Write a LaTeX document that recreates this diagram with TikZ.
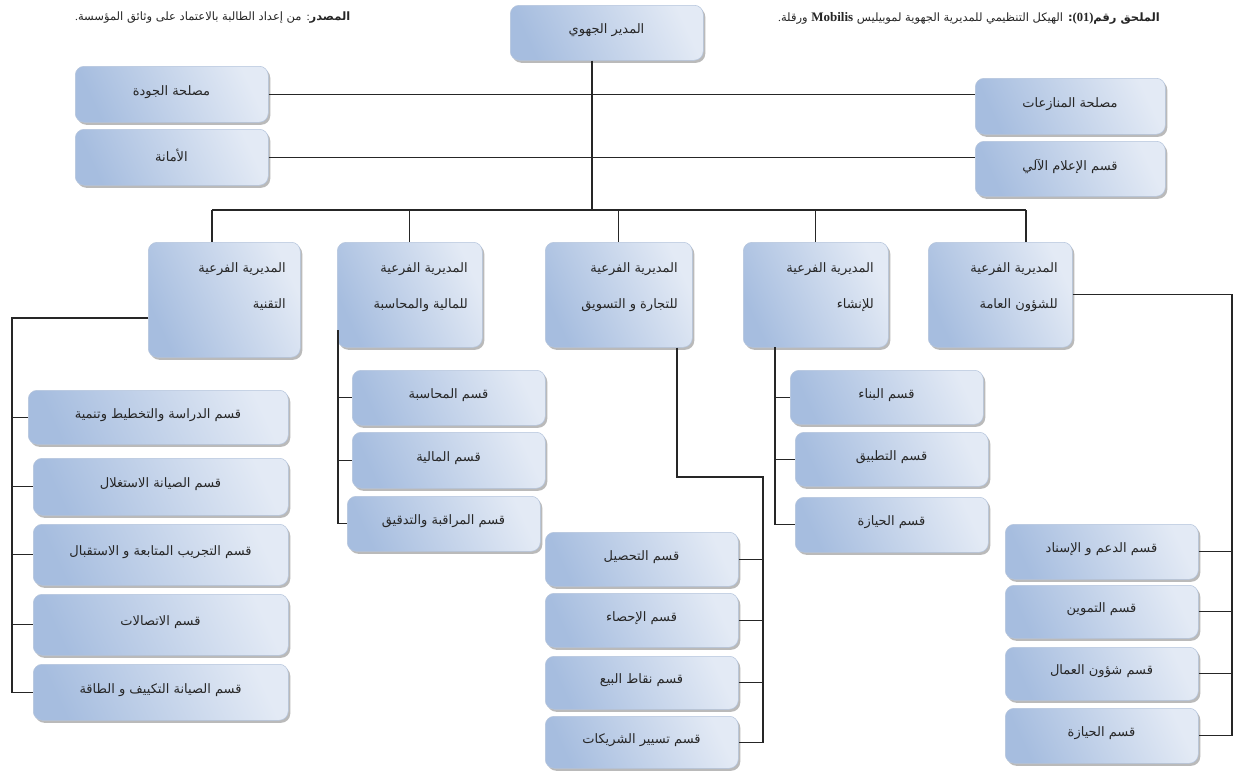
\documentclass[tikz,border=0pt]{standalone}
\usepackage{fontspec}
\setmainfont{DejaVu Sans}[Script=Arabic]
\newfontfamily\lat{Liberation Serif}
\TeXXeTstate=1
\usetikzlibrary{shadows}
\definecolor{bxlight}{HTML}{E3EAF5}
\definecolor{bxmid}{HTML}{CAD8EC}
\definecolor{bxdark}{HTML}{A6BDDF}
\definecolor{bxedge}{HTML}{B4C4DC}
\definecolor{ln}{HTML}{262626}
\tikzset{
  bx/.style={rounded corners=9pt, draw=bxedge, line width=0.5pt,
    shading=axis, top color=bxdark, middle color=bxmid, bottom color=bxlight,
    shading angle=115,
    drop shadow={shadow xshift=2pt, shadow yshift=-2.5pt, opacity=0.45, fill=black!60}},
  lbl/.style={font=\fontsize{13}{15}\selectfont, inner sep=0pt, text=black!85},
  hlbl/.style={font=\fontsize{13}{15}\selectfont, inner sep=0pt, text=black!85, align=right},
  hdr/.style={font=\fontsize{11.5}{13}\selectfont, inner sep=0pt, text=black!85},
  conn/.style={draw=ln, line width=1.1pt},
}
\newcommand\mybox[6]{%
  \node[bx, anchor=north west, minimum width={#4-#2}, minimum height={#5-#3}] (#1) at (#2,#3) {};
  \node[lbl] (#1t) at ({(#2+#4)/2},{(#3+#5)/2-2}) {#6};
}
\newcommand\mydir[7]{%
  \node[bx, anchor=north west, minimum width={#4-#2}, minimum height={#5-#3}] (#1) at (#2,#3) {};
  \node[hlbl, anchor=east] (#1t) at ({#4-14},{#3+27}) {#6};
  \node[hlbl, anchor=east] (#1u) at ({#4-14},{#3+63}) {#7};
}
\begin{document}
\begin{tikzpicture}[x=1pt, y=-1pt]
\useasboundingbox (0,0) rectangle (1235,774);
\fill[white] (0,0) rectangle (1235,774);

% headers
\node[hdr, anchor=west] (src) at (75,18) {\beginR{\bfseries المصدر}{\lat :} من إعداد الطالبة بالاعتماد على وثائق المؤسسة{\lat .}\endR};
\node[hdr, anchor=west] (ttl) at (778,18) {\beginR{\bfseries الملحق رقم}{\lat\bfseries\fontsize{12.5}{14}\selectfont (01)}{\bfseries :} الهيكل التنظيمي للمديرية الجهوية لموبيليس {\lat\bfseries\fontsize{13}{14}\selectfont Mobilis} ورقلة{\lat .}\endR};

% top
\mybox{T}{510}{5}{703}{60}{\beginR المدير الجهوي\endR}
\mybox{Q1}{75}{66}{268}{122}{\beginR مصلحة الجودة\endR}
\mybox{Q2}{75}{129}{268}{185}{\beginR الأمانة\endR}
\mybox{R1}{975}{78}{1165}{134}{\beginR مصلحة المنازعات\endR}
\mybox{R2}{975}{141}{1165}{196}{\beginR قسم الإعلام الآلي\endR}

% level 2
\mydir{D1}{148}{242}{300}{357}{\beginR المديرية الفرعية\endR}{\beginR التقنية\endR}
\mydir{D2}{337}{242}{482}{347}{\beginR المديرية الفرعية\endR}{\beginR للمالية والمحاسبة\endR}
\mydir{D3}{545}{242}{692}{347}{\beginR المديرية الفرعية\endR}{\beginR للتجارة و التسويق\endR}
\mydir{D4}{743}{242}{888}{347}{\beginR المديرية الفرعية\endR}{\beginR للإنشاء\endR}
\mydir{D5}{928}{242}{1072}{347}{\beginR المديرية الفرعية\endR}{\beginR للشؤون العامة\endR}

% technical column
\mybox{L1}{28}{390}{288}{444}{\beginR قسم الدراسة والتخطيط وتنمية\endR}
\mybox{L2}{33}{458}{288}{515}{\beginR قسم الصيانة الاستغلال\endR}
\mybox{L3}{33}{524}{288}{585}{\beginR قسم التجريب المتابعة و الاستقبال\endR}
\mybox{L4}{33}{594}{288}{655}{\beginR قسم الاتصالات\endR}
\mybox{L5}{33}{664}{288}{720}{\beginR قسم الصيانة التكييف و الطاقة\endR}

% finance column
\mybox{M1}{352}{370}{545}{425}{\beginR قسم المحاسبة\endR}
\mybox{M2}{352}{432}{545}{488}{\beginR قسم المالية\endR}
\mybox{M3}{347}{496}{540}{551}{\beginR قسم المراقبة والتدقيق\endR}

% construction column
\mybox{N1}{790}{370}{983}{424}{\beginR قسم البناء\endR}
\mybox{N2}{795}{432}{988}{486}{\beginR قسم التطبيق\endR}
\mybox{N3}{795}{497}{988}{552}{\beginR قسم الحيازة\endR}

% commerce column
\mybox{C1}{545}{532}{738}{586}{\beginR قسم التحصيل\endR}
\mybox{C2}{545}{593}{738}{647}{\beginR قسم الإحصاء\endR}
\mybox{C3}{545}{656}{738}{709}{\beginR قسم نقاط البيع\endR}
\mybox{C4}{545}{716}{738}{768}{\beginR قسم تسيير الشريكات\endR}

% general affairs column
\mybox{S1}{1005}{524}{1198}{579}{\beginR قسم الدعم و الإسناد\endR}
\mybox{S2}{1005}{585}{1198}{638}{\beginR قسم التموين\endR}
\mybox{S3}{1005}{647}{1198}{700}{\beginR قسم شؤون العمال\endR}
\mybox{S4}{1005}{708}{1198}{763}{\beginR قسم الحيازة\endR}

% coordinates
\coordinate (trunk) at (592,210);
\coordinate (busL) at (212,210);
\coordinate (busR) at (1026,210);
\coordinate (v1) at (12,318);
\coordinate (v2) at (338,330);
\coordinate (v3a) at (677,477);
\coordinate (v3b) at (763,477);
\coordinate (v4) at (775,347);
\coordinate (v5) at (1232,294);

% connectors
\draw[conn] (trunk |- T.south) -- (trunk);
\draw[conn] (busL) -- (busR);
\draw[conn] (Q1.east) -- (Q1.east -| R1.west);
\draw[conn] (Q2.east) -- (Q2.east -| R2.west);
\draw[conn] (busL) -- (busL |- D1.north);
\draw[conn] (D2.north |- busL) -- (D2.north);
\draw[conn] (D3.north |- busL) -- (D3.north);
\draw[conn] (D4.north |- busL) -- (D4.north);
\draw[conn] (busR) -- (busR |- D5.north);

\draw[conn] (v1 -| D1.west) -- (v1) -- (v1 |- L5.west) -- (L5.west);
\foreach \n in {L1,L2,L3,L4} \draw[conn] (v1 |- \n.west) -- (\n.west);

\draw[conn] (v2) -- (v2 |- M3.west) -- (M3.west);
\foreach \n in {M1,M2} \draw[conn] (v2 |- \n.west) -- (\n.west);

\draw[conn] (v4) -- (v4 |- N3.west) -- (N3.west);
\foreach \n in {N1,N2} \draw[conn] (v4 |- \n.west) -- (\n.west);

\draw[conn] (v3a |- D3.south) -- (v3a) -- (v3b) -- (v3b |- C4.east) -- (C4.east);
\foreach \n in {C1,C2,C3} \draw[conn] (\n.east) -- (\n.east -| v3b);

\draw[conn] (D5.east) -- (D5.east -| v5) -- (v5 |- S4.east) -- (S4.east);
\foreach \n in {S1,S2,S3} \draw[conn] (\n.east) -- (\n.east -| v5);
\end{tikzpicture}
\end{document}
